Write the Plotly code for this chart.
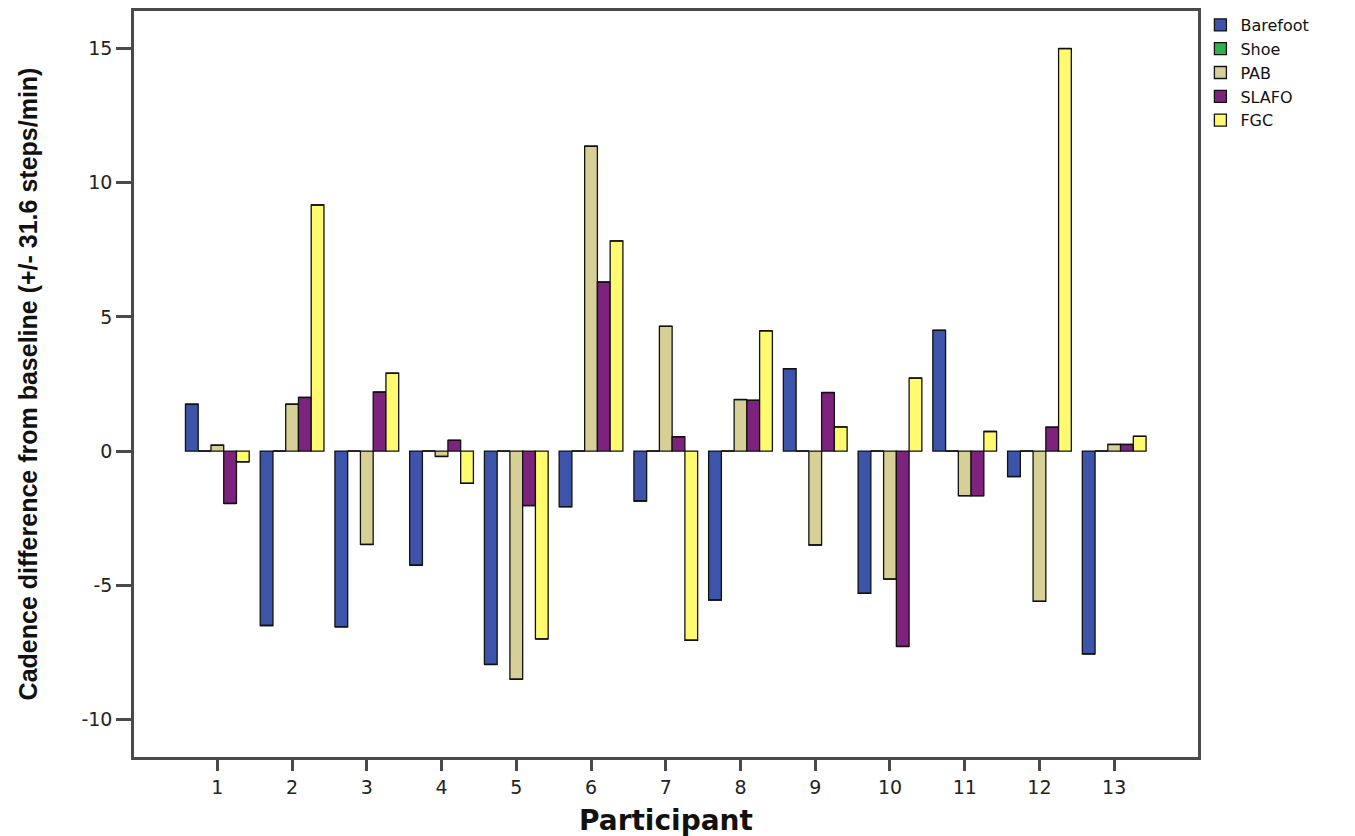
import plotly.graph_objects as go

participants = list(range(1, 14))
series_names = ["Barefoot", "Shoe", "PAB", "SLAFO", "FGC"]
barefoot = [1.75, -6.5, -6.55, -4.25, -7.95, -2.07, -1.86, -5.55, 3.07, -5.3, 4.5, -0.95, -7.56]
shoe = [0, 0, 0, 0, 0, 0, 0, 0, 0, 0, 0, 0, 0]
pab = [0.22, 1.75, -3.48, -0.2, -8.5, 11.36, 4.65, 1.92, -3.5, -4.77, -1.66, -5.6, 0.25]
slafo = [-1.95, 2.0, 2.2, 0.4, -2.03, 6.3, 0.53, 1.89, 2.18, -7.28, -1.66, 0.89, 0.25]
fgc = [-0.4, 9.17, 2.9, -1.2, -7.0, 7.83, -7.05, 4.48, 0.9, 2.72, 0.73, 15.0, 0.55]
colors = ["#3C55AA", "#2DB34A", "#D6D096", "#7D237D", "#FFFA6E"]
y_ticks = [-10, -5, 0, 5, 10, 15]

fig = go.Figure()
for name, vals, col in zip(series_names, [barefoot, shoe, pab, slafo, fgc], colors):
    fig.add_trace(go.Bar(
        x=participants, y=vals, name=name,
        marker=dict(color=col, line=dict(color="#111111", width=1.3)),
        error_y=dict(type="data", array=[0] * len(vals), visible=True,
                     color="#111111", thickness=1.5, width=6.4),
    ))

axis_col = "#4a4a4a"
fig.update_layout(
    width=1355, height=836,
    barmode="group", bargap=0.147, bargroupgap=0,
    plot_bgcolor="white", paper_bgcolor="white",
    margin=dict(l=126, r=162, t=0, b=87),
    font=dict(family="DejaVu Sans", size=17, color="#222222"),
    showlegend=True,
    legend=dict(xref="container", yref="container", x=0.88, y=1.008,
                xanchor="left", yanchor="top",
                font=dict(family="DejaVu Sans", size=16, color="#111111"),
                tracegroupgap=0, itemwidth=30, bgcolor="rgba(0,0,0,0)",
                traceorder="normal"),
)
fig.update_xaxes(
    range=[-0.115, 14.12], tickmode="array", tickvals=participants,
    ticktext=[str(p) for p in participants],
    showline=True, linecolor=axis_col, linewidth=2.5, mirror=True,
    ticks="outside", ticklen=11, tickwidth=2.5, tickcolor=axis_col,
    showgrid=False, zeroline=False,
    tickfont=dict(family="DejaVu Sans", size=19, color="#222222"),
    title=dict(text="<b>Participant</b>", standoff=14,
               font=dict(family="DejaVu Sans", size=28, color="#111111")),
)
fig.update_yaxes(
    range=[-11.4, 16.4], tickmode="array", tickvals=y_ticks,
    ticktext=[str(v) for v in y_ticks],
    showline=True, linecolor=axis_col, linewidth=2.5, mirror=True,
    ticks="outside", ticklen=15, tickwidth=2.5, tickcolor=axis_col,
    showgrid=False, zeroline=False,
    tickfont=dict(family="DejaVu Sans", size=19, color="#222222"),
    title=dict(text="<b>Cadence difference from baseline (+/- 31.6 steps/min)</b>",
               standoff=37,
               font=dict(family="Liberation Sans", size=25, color="#111111")),
)

fig.write_html("out.html")
